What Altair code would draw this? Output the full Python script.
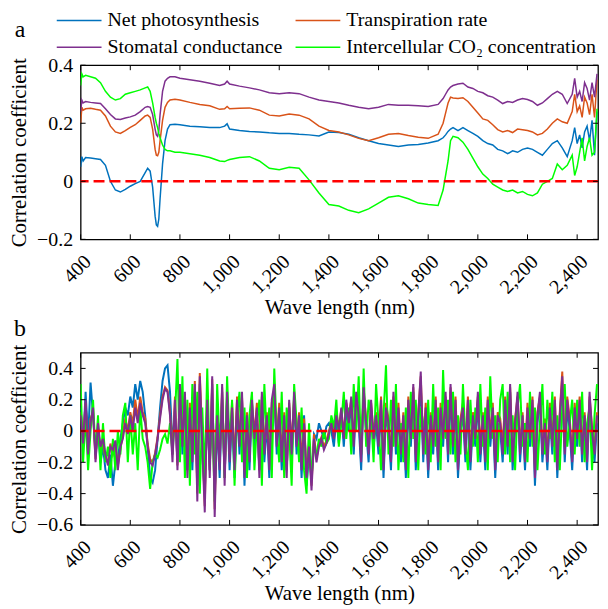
import altair as alt
import pandas as pd

FONT = "Liberation Serif"

SERIES = ["Net photosynthesis", "Transpiration rate", "Stomatal conductance",
          "Intercellular CO\u2082 concentration"]
COLORS = ["#0072BD", "#D95319", "#7E2F8E", "#00FF00"]

# ---------------- panel a ----------------
wl_a = [400, 405, 410, 420, 440, 460, 480, 500, 520, 540,
        560, 580, 600, 620, 640, 660, 670, 680, 690, 700,
        705, 710, 715, 720, 730, 740, 750, 760, 780, 800,
        840, 880, 920, 960, 980, 990, 1000, 1040, 1080, 1120,
        1160, 1200, 1240, 1280, 1320, 1360, 1400, 1440, 1480, 1520,
        1560, 1600, 1640, 1680, 1720, 1760, 1800, 1840, 1860, 1870,
        1880, 1890, 1900, 1920, 1940, 1960, 1980, 2000, 2020, 2040,
        2060, 2080, 2100, 2120, 2140, 2160, 2180, 2200, 2220, 2240,
        2260, 2280, 2300, 2320, 2340, 2360, 2380, 2390, 2400, 2410,
        2420, 2430, 2440, 2450, 2460, 2470, 2480]

pn_a = [0.050, 0.085, 0.070, 0.082, 0.080, 0.078, 0.075, 0.055, 0.000, -0.030,
        -0.037, -0.028, -0.017, -0.008, 0.000, 0.030, 0.045, 0.035, -0.020, -0.120,
        -0.150, -0.155, -0.130, -0.060, 0.060, 0.140, 0.180, 0.195, 0.197, 0.195,
        0.190, 0.188, 0.185, 0.185, 0.190, 0.198, 0.180, 0.175, 0.172, 0.170,
        0.167, 0.165, 0.165, 0.162, 0.160, 0.156, 0.170, 0.168, 0.162, 0.150,
        0.140, 0.130, 0.125, 0.120, 0.125, 0.127, 0.132, 0.140, 0.150, 0.160,
        0.172, 0.180, 0.185, 0.175, 0.185, 0.175, 0.165, 0.155, 0.140, 0.130,
        0.125, 0.110, 0.105, 0.095, 0.105, 0.100, 0.110, 0.115, 0.110, 0.100,
        0.090, 0.110, 0.130, 0.140, 0.115, 0.085, 0.140, 0.185, 0.130, 0.160,
        0.115, 0.170, 0.190, 0.140, 0.210, 0.090, 0.240]

tr_a = [0.200, 0.255, 0.245, 0.250, 0.252, 0.248, 0.245, 0.225, 0.190, 0.170,
        0.165, 0.175, 0.186, 0.195, 0.210, 0.225, 0.228, 0.220, 0.180, 0.110,
        0.090, 0.088, 0.100, 0.140, 0.210, 0.255, 0.272, 0.280, 0.283, 0.280,
        0.272, 0.265, 0.260, 0.248, 0.250, 0.258, 0.250, 0.252, 0.253, 0.245,
        0.228, 0.225, 0.232, 0.228, 0.215, 0.190, 0.175, 0.170, 0.160, 0.148,
        0.140, 0.150, 0.162, 0.165, 0.158, 0.152, 0.148, 0.162, 0.200, 0.235,
        0.270, 0.290, 0.287, 0.285, 0.288, 0.275, 0.255, 0.235, 0.215, 0.210,
        0.195, 0.178, 0.170, 0.175, 0.168, 0.180, 0.178, 0.175, 0.170, 0.160,
        0.165, 0.180, 0.200, 0.215, 0.205, 0.200, 0.240, 0.300, 0.240, 0.260,
        0.220, 0.290, 0.270, 0.230, 0.300, 0.220, 0.350]

gs_a = [0.240, 0.280, 0.270, 0.275, 0.272, 0.270, 0.268, 0.250, 0.230, 0.215,
        0.213, 0.218, 0.222, 0.228, 0.240, 0.255, 0.258, 0.255, 0.230, 0.180,
        0.160, 0.155, 0.175, 0.230, 0.310, 0.345, 0.355, 0.360, 0.360, 0.355,
        0.350, 0.345, 0.338, 0.330, 0.335, 0.345, 0.335, 0.328, 0.322, 0.315,
        0.305, 0.302, 0.305, 0.302, 0.290, 0.280, 0.275, 0.270, 0.262, 0.255,
        0.250, 0.255, 0.265, 0.262, 0.262, 0.260, 0.258, 0.265, 0.285, 0.300,
        0.315, 0.325, 0.330, 0.335, 0.338, 0.325, 0.320, 0.310, 0.305, 0.295,
        0.290, 0.280, 0.268, 0.275, 0.272, 0.280, 0.285, 0.282, 0.275, 0.262,
        0.270, 0.285, 0.300, 0.310, 0.300, 0.268, 0.300, 0.355, 0.290, 0.310,
        0.275, 0.340, 0.320, 0.280, 0.340, 0.290, 0.370]

ci_a = [0.330, 0.370, 0.360, 0.365, 0.360, 0.355, 0.340, 0.310, 0.290, 0.280,
        0.285, 0.300, 0.305, 0.310, 0.315, 0.322, 0.325, 0.310, 0.270, 0.220,
        0.200, 0.185, 0.165, 0.150, 0.125, 0.110, 0.105, 0.105, 0.100, 0.100,
        0.095, 0.090, 0.082, 0.070, 0.068, 0.072, 0.075, 0.082, 0.085, 0.070,
        0.045, 0.040, 0.048, 0.045, 0.005, -0.040, -0.080, -0.085, -0.100, -0.108,
        -0.095, -0.075, -0.055, -0.050, -0.060, -0.075, -0.080, -0.083, -0.030, 0.020,
        0.070, 0.140, 0.155, 0.150, 0.135, 0.110, 0.080, 0.050, 0.025, 0.010,
        -0.010, -0.020, -0.030, -0.035, -0.030, -0.040, -0.035, -0.045, -0.050, -0.040,
        -0.010, 0.000, 0.010, 0.060, 0.040, 0.055, 0.090, 0.020, 0.050, 0.100,
        0.150, 0.070, 0.120, 0.150, 0.090, 0.100, 0.250]

# ---------------- panel b (every 10 nm, 400-2480) ----------------
wl_b = list(range(400, 2490, 10))

pn_b = [0.15, -0.10, 0.25, -0.05, 0.31, 0.10, -0.15, 0.00, -0.20, -0.10,
        -0.25, -0.30, -0.15, -0.35, -0.20, -0.18, -0.05, 0.05, 0.15, 0.10,
        0.22, 0.15, 0.30, 0.20, 0.32, 0.25, 0.10, -0.10, -0.30, -0.33,
        -0.25, -0.05, 0.15, 0.32, 0.40, 0.42, 0.25, -0.10, 0.15, -0.20,
        0.25, -0.15, 0.20, -0.25, 0.10, -0.25, 0.25, -0.35, 0.30, -0.15,
        -0.40, 0.15, -0.25, 0.30, -0.40, 0.05, -0.30, 0.25, -0.30, 0.20,
        -0.25, 0.10, -0.30, 0.15, -0.15, 0.20, -0.35, 0.05, -0.25, 0.15,
        -0.10, 0.10, -0.25, 0.20, -0.20, 0.05, -0.30, 0.15, 0.25, -0.15,
        0.10, -0.25, 0.05, -0.25, 0.15, -0.20, 0.20, -0.15, 0.05, -0.30,
        0.10, -0.35, -0.15, -0.30, -0.02, -0.05, 0.05, 0.00, -0.05, 0.03,
        0.05, 0.00, -0.10, 0.08, -0.08, 0.12, -0.10, 0.15, 0.00, 0.18,
        -0.15, 0.20, 0.05, -0.25, 0.25, 0.00, -0.20, 0.15, -0.10, 0.05,
        -0.15, 0.15, -0.30, 0.10, 0.00, -0.25, 0.20, -0.15, 0.10, -0.20,
        0.05, -0.30, 0.15, -0.10, 0.25, -0.25, 0.05, 0.30, -0.20, 0.10,
        -0.30, 0.05, -0.15, 0.15, -0.25, 0.10, -0.10, 0.20, -0.20, 0.25,
        -0.15, 0.15, -0.30, 0.00, 0.10, -0.20, 0.15, -0.25, 0.05, -0.10,
        0.20, -0.20, 0.05, -0.25, 0.15, -0.10, 0.10, -0.30, 0.05, 0.00,
        -0.20, 0.15, -0.15, 0.25, -0.25, 0.00, 0.20, -0.20, 0.05, -0.25,
        0.10, -0.10, 0.15, -0.35, 0.05, 0.20, -0.20, 0.00, -0.25, 0.10,
        -0.15, 0.15, -0.30, 0.05, 0.30, -0.20, 0.15, 0.00, -0.25, 0.10,
        -0.10, 0.15, -0.20, 0.05, -0.25, 0.20, -0.05, -0.20, 0.05]

tr_b = [0.12, -0.05, 0.18, -0.12, 0.08, 0.12, -0.18, 0.02, -0.12, -0.08,
        -0.18, -0.20, -0.08, -0.15, -0.10, -0.22, -0.12, -0.02, 0.08, 0.00,
        0.12, 0.05, 0.20, 0.08, 0.22, 0.12, 0.08, -0.08, -0.18, -0.20,
        -0.14, -0.04, 0.10, 0.22, 0.28, 0.26, 0.12, -0.15, 0.22, -0.22,
        0.28, -0.05, 0.22, -0.25, 0.18, -0.15, 0.32, -0.40, 0.37, -0.05,
        -0.48, 0.22, -0.25, 0.33, -0.50, 0.15, -0.20, 0.28, -0.30, 0.22,
        -0.15, 0.18, -0.20, 0.22, -0.05, 0.22, -0.25, 0.12, -0.15, 0.18,
        -0.02, 0.18, -0.25, 0.22, -0.10, 0.12, -0.20, 0.18, 0.25, -0.05,
        0.18, -0.15, 0.12, -0.25, 0.18, -0.10, 0.22, -0.05, 0.12, -0.20,
        0.08, -0.28, -0.08, -0.35, -0.02, -0.18, -0.08, -0.04, -0.10, -0.06,
        0.00, 0.06, -0.03, 0.12, 0.02, 0.14, -0.02, 0.18, 0.08, 0.20,
        -0.05, 0.22, 0.12, -0.15, 0.25, 0.08, -0.10, 0.18, -0.02, 0.12,
        -0.05, 0.22, -0.20, 0.18, 0.08, -0.15, 0.22, -0.05, 0.18, -0.10,
        0.12, -0.20, 0.22, -0.02, 0.28, -0.15, 0.12, 0.35, -0.10, 0.18,
        -0.20, 0.12, -0.05, 0.22, -0.15, 0.18, -0.02, 0.22, -0.10, 0.28,
        -0.05, 0.22, -0.20, 0.08, 0.18, -0.10, 0.22, -0.15, 0.12, -0.02,
        0.22, -0.10, 0.12, -0.15, 0.22, -0.02, 0.18, -0.20, 0.12, 0.08,
        -0.10, 0.22, -0.05, 0.28, -0.15, 0.08, 0.22, -0.10, 0.12, -0.15,
        0.18, -0.02, 0.22, -0.25, 0.12, 0.22, -0.10, 0.08, -0.15, 0.18,
        -0.05, 0.22, -0.20, 0.12, 0.38, -0.10, 0.22, 0.08, -0.15, 0.18,
        -0.02, 0.22, -0.10, 0.12, -0.15, 0.22, 0.02, -0.10, 0.12]

gs_b = [0.10, -0.08, 0.20, -0.15, 0.05, 0.15, -0.20, 0.05, -0.10, -0.05,
        -0.15, -0.22, -0.10, -0.12, -0.06, -0.25, -0.10, -0.05, 0.05, -0.02,
        0.10, 0.00, 0.15, 0.05, 0.18, 0.10, 0.05, -0.10, -0.20, -0.22,
        -0.15, -0.05, 0.08, 0.20, 0.27, 0.25, 0.10, -0.20, 0.20, -0.25,
        0.30, -0.10, 0.25, -0.30, 0.15, -0.20, 0.30, -0.45, 0.35, -0.10,
        -0.52, 0.20, -0.30, 0.35, -0.55, 0.10, -0.25, 0.30, -0.35, 0.25,
        -0.20, 0.15, -0.25, 0.20, -0.10, 0.25, -0.30, 0.10, -0.20, 0.20,
        -0.05, 0.15, -0.30, 0.25, -0.15, 0.10, -0.25, 0.20, 0.30, -0.10,
        0.15, -0.20, 0.10, -0.30, 0.20, -0.15, 0.25, -0.10, 0.10, -0.25,
        0.05, -0.30, -0.10, -0.38, -0.05, -0.20, -0.10, -0.05, -0.12, -0.08,
        -0.02, 0.05, -0.05, 0.10, 0.00, 0.15, -0.05, 0.20, 0.05, 0.22,
        -0.10, 0.25, 0.10, -0.20, 0.28, 0.05, -0.15, 0.20, -0.05, 0.10,
        -0.10, 0.20, -0.25, 0.15, 0.05, -0.20, 0.25, -0.10, 0.15, -0.15,
        0.10, -0.25, 0.20, -0.05, 0.30, -0.20, 0.10, 0.38, -0.15, 0.15,
        -0.25, 0.10, -0.10, 0.20, -0.20, 0.15, -0.05, 0.25, -0.15, 0.30,
        -0.10, 0.20, -0.25, 0.05, 0.15, -0.15, 0.20, -0.20, 0.10, -0.05,
        0.25, -0.15, 0.10, -0.20, 0.20, -0.05, 0.15, -0.25, 0.10, 0.05,
        -0.15, 0.20, -0.10, 0.30, -0.20, 0.05, 0.25, -0.15, 0.10, -0.20,
        0.15, -0.05, 0.20, -0.30, 0.10, 0.25, -0.15, 0.05, -0.20, 0.15,
        -0.10, 0.20, -0.25, 0.10, 0.35, -0.15, 0.20, 0.05, -0.20, 0.15,
        -0.05, 0.20, -0.15, 0.10, -0.20, 0.25, 0.00, -0.15, 0.10]

ci_b = [0.30, -0.20, 0.10, -0.25, 0.00, 0.20, -0.15, 0.10, -0.25, 0.05,
        -0.20, -0.10, -0.30, -0.05, -0.25, 0.00, -0.15, 0.10, 0.18, -0.20,
        0.10, -0.15, 0.05, -0.25, 0.15, -0.05, -0.10, -0.20, -0.37, -0.20,
        -0.15, -0.17, -0.12, -0.05, -0.02, -0.08, 0.05, -0.15, 0.10, 0.46,
        -0.20, 0.35, -0.30, 0.20, -0.35, 0.30, -0.15, 0.25, -0.40, 0.15,
        -0.30, 0.40, -0.20, 0.10, -0.45, 0.30, -0.10, 0.20, -0.30, 0.35,
        -0.10, 0.20, -0.35, 0.10, 0.25, -0.20, 0.15, -0.30, 0.10, 0.25,
        -0.25, 0.05, 0.20, -0.35, 0.30, -0.05, 0.15, -0.30, 0.40, 0.00,
        -0.20, 0.25, -0.30, 0.15, 0.00, -0.35, 0.30, 0.05, -0.20, 0.15,
        -0.25, -0.40, 0.05, -0.30, -0.10, -0.15, -0.05, -0.10, 0.00, -0.08,
        -0.05, 0.10, 0.02, 0.20, -0.10, 0.05, 0.25, -0.05, 0.15, -0.15,
        0.30, 0.00, 0.35, -0.15, 0.40, -0.10, 0.20, 0.10, -0.20, 0.30,
        0.05, -0.25, 0.10, 0.42, -0.15, 0.20, -0.10, 0.30, -0.25, 0.05,
        -0.20, 0.15, -0.30, 0.25, -0.05, 0.20, -0.25, 0.15, 0.05, -0.15,
        0.20, -0.20, 0.30, -0.10, 0.15, -0.25, 0.39, -0.05, 0.20, -0.15,
        0.25, -0.20, 0.10, -0.15, 0.30, -0.05, -0.25, 0.20, -0.10, 0.15,
        -0.20, 0.30, -0.10, 0.15, -0.25, 0.35, -0.05, 0.10, -0.20, 0.20,
        0.30, -0.15, 0.25, -0.20, 0.10, -0.25, 0.15, 0.30, -0.10, 0.05,
        -0.20, 0.25, -0.10, 0.15, -0.25, 0.05, 0.30, -0.15, 0.20, -0.05,
        0.25, -0.20, 0.10, -0.25, 0.15, 0.30, -0.10, 0.05, 0.20, -0.15,
        0.20, -0.10, 0.25, -0.20, 0.05, 0.15, -0.25, 0.10, 0.30]

X_TICKS = list(range(400, 2401, 200))
XMIN, XMAX = 400, 2484
W = 520

# legend layout (pixels relative to panel a plot origin)
LEG_COL_X = [-24, 216]
LEG_ROW_Y = [-45, -18]
LEG_LINE = 45
LEG_GAP = 6


def panel(wl, cols, ydom, yticks, h, letter, letter_xy, with_legend, order,
          lw, dash):
    xs = alt.Scale(domain=[XMIN, XMAX], nice=False, zero=False)
    ys = alt.Scale(domain=list(ydom), nice=False, zero=False)
    xaxis = alt.Axis(values=X_TICKS, format=",d", labelAngle=315,
                     labelAlign="right", labelBaseline="top", labelPadding=12,
                     title="Wave length (nm)", titlePadding=0)
    yaxis = alt.Axis(values=yticks,
                     labelExpr="datum.value == 0 ? '0' : format(datum.value, '.1f')",
                     title="Correlation coefficient", labelPadding=8,
                     titlePadding=7)
    X = alt.X("wl:Q", scale=xs, axis=xaxis)
    Y = alt.Y("r:Q", scale=ys, axis=yaxis)

    layers = []
    for i in order:
        df = pd.DataFrame({"wl": wl, "r": cols[i]})
        layers.append(alt.Chart(df).mark_line(strokeWidth=lw, clip=True,
                                              color=COLORS[i])
                      .encode(x=X, y=Y))

    # zero reference line
    layers.append(alt.Chart(pd.DataFrame({"r": [0.0]}))
                  .mark_rule(color="#FF0000", strokeWidth=2.6, strokeDash=dash)
                  .encode(y=Y))

    # inward ticks on all four sides
    ty = (ydom[1] - ydom[0]) * 5.0 / h
    tx = (XMAX - XMIN) * 5.0 / W
    bt = pd.DataFrame({"wl": X_TICKS, "r": [ydom[0]] * len(X_TICKS),
                       "r2": [ydom[0] + ty] * len(X_TICKS)})
    tt = pd.DataFrame({"wl": X_TICKS, "r": [ydom[1]] * len(X_TICKS),
                       "r2": [ydom[1] - ty] * len(X_TICKS)})
    lt = pd.DataFrame({"wl": [XMIN] * len(yticks), "wl2": [XMIN + tx] * len(yticks),
                       "r": yticks})
    rt = pd.DataFrame({"wl": [XMAX] * len(yticks), "wl2": [XMAX - tx] * len(yticks),
                       "r": yticks})
    for d in (bt, tt):
        layers.append(alt.Chart(d).mark_rule(color="black", strokeWidth=1)
                      .encode(x=X, y=Y, y2="r2:Q"))
    for d in (lt, rt):
        layers.append(alt.Chart(d).mark_rule(color="black", strokeWidth=1)
                      .encode(x=X, x2="wl2:Q", y=Y))

    one = pd.DataFrame({"k": [0]})
    layers.append(alt.Chart(one)
                  .mark_text(font=FONT, fontSize=24, align="center",
                             baseline="alphabetic", color="black")
                  .encode(text=alt.value(letter), x=alt.value(letter_xy[0]),
                          y=alt.value(letter_xy[1])))

    if with_legend:
        slots = [(0, 0), (1, 0), (0, 1), (1, 1)]  # (col, row) per series
        for i, (c, r) in enumerate(slots):
            x0 = LEG_COL_X[c]
            y0 = LEG_ROW_Y[r]
            layers.append(alt.Chart(one)
                          .mark_rule(color=COLORS[i], strokeWidth=1.5)
                          .encode(x=alt.value(x0), x2=alt.value(x0 + LEG_LINE),
                                  y=alt.value(y0)))
            layers.append(alt.Chart(one)
                          .mark_text(font=FONT, fontSize=20, align="left",
                                     baseline="middle", color="black")
                          .encode(text=alt.value(SERIES[i]),
                                  x=alt.value(x0 + LEG_LINE + LEG_GAP),
                                  y=alt.value(y0)))

    return alt.layer(*layers).properties(width=W, height=h)


pa = panel(wl_a, [pn_a, tr_a, gs_a, ci_a], (-0.2, 0.4), [-0.2, 0.0, 0.2, 0.4],
           175, "a", (-61, -28), True, [0, 1, 2, 3], 1.5, [11, 5])
pb = panel(wl_b, [pn_b, tr_b, gs_b, ci_b], (-0.6, 0.5),
           [-0.6, -0.4, -0.2, 0.0, 0.2, 0.4], 173, "b", (-61, -17), False,
           [0, 1, 3, 2], 2.0, [11, 5])

chart = (alt.vconcat(pa, pb, spacing=114, bounds="flush")
         .properties(padding={"left": 0, "top": 0, "right": 0, "bottom": 0})
         .configure(font=FONT)
         .configure_view(stroke="black", strokeWidth=1.3)
         .configure_axis(domain=False, ticks=False, grid=False,
                         labelFont=FONT, titleFont=FONT, labelFontSize=20,
                         titleFontSize=21, titleFontWeight="normal",
                         labelColor="black", titleColor="black"))

chart.save("out.html", embed_options={"renderer": "svg", "actions": False})
